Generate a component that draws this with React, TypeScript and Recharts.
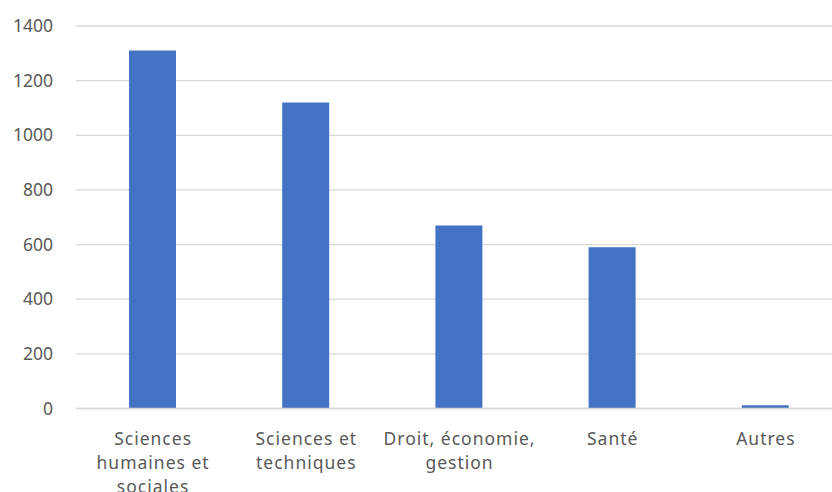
import React from 'react';
import { BarChart, Bar, XAxis, YAxis, CartesianGrid } from 'recharts';

// Effectifs par grand domaine disciplinaire
const categories = [
  'Sciences humaines et sociales',
  'Sciences et techniques',
  'Droit, économie, gestion',
  'Santé',
  'Autres',
];
const effectifs = [1310, 1120, 670, 590, 12];
const yTicks = [0, 200, 400, 600, 800, 1000, 1200, 1400];

const data = categories.map((discipline, i) => ({ discipline, effectif: effectifs[i] }));

const FONT = '"Noto Sans", "DejaVu Sans", sans-serif';
const TEXT_COLOR = '#595959';
const GRID_COLOR = '#d9d9d9';
const BAR_COLOR = '#4472c4';
const FONT_SIZE = 17.5;
const LINE_HEIGHT = 24;

// Greedy word wrap on a character budget, like the category axis wraps its labels
function wrapLabel(label: string, maxChars: number): string[] {
  const words = label.split(' ');
  const lines: string[] = [];
  let current = '';
  for (const w of words) {
    const candidate = current ? current + ' ' + w : w;
    if (candidate.length > maxChars && current) {
      lines.push(current);
      current = w;
    } else {
      current = candidate;
    }
  }
  if (current) lines.push(current);
  return lines;
}

const CategoryTick = (props: any) => {
  const { x, y, payload } = props;
  const lines = wrapLabel(String(payload.value), 16);
  return (
    <text
      x={x}
      y={y}
      textAnchor="middle"
      fill={TEXT_COLOR}
      fontSize={FONT_SIZE}
      fontFamily={FONT}
      letterSpacing={1}
    >
      {lines.map((line, i) => (
        <tspan key={i} x={x + 0.5} dy={i === 0 ? 30 : LINE_HEIGHT}>
          {line}
        </tspan>
      ))}
    </text>
  );
};

export default function App() {
  return (
    <div
      style={{
        position: 'absolute',
        left: 0,
        top: 0,
        width: 832,
        height: 492,
        overflow: 'hidden',
        background: '#ffffff',
      }}
    >
      <BarChart
        width={842}
        height={492}
        data={data}
        margin={{ top: 26, right: 0, bottom: 0, left: 0 }}
      >
        <CartesianGrid vertical={false} stroke={GRID_COLOR} strokeWidth={1.3} />
        <XAxis
          dataKey="discipline"
          height={83.5}
          axisLine={{ stroke: GRID_COLOR, strokeWidth: 1.3 }}
          tickLine={false}
          tickMargin={0}
          interval={0}
          tick={<CategoryTick />}
        />
        <YAxis
          width={76}
          domain={[0, 1400]}
          ticks={yTicks}
          axisLine={false}
          tickLine={false}
          tickMargin={17}
          tick={{ fill: TEXT_COLOR, fontSize: FONT_SIZE, fontFamily: FONT }}
        />
        <Bar dataKey="effectif" fill={BAR_COLOR} barSize={47} isAnimationActive={false} />
      </BarChart>
    </div>
  );
}
